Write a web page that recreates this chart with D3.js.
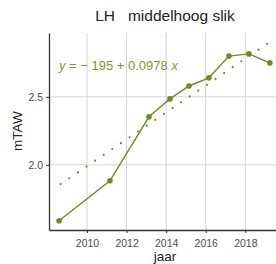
<!DOCTYPE html>
<html>
<head>
<meta charset="utf-8">
<script src="https://cdn.jsdelivr.net/npm/d3@7"></script>
<style>
  body { margin: 0; background: #fff; }
  text { font-family: "Liberation Sans", Arial, sans-serif; }
</style>
</head>
<body>
<svg width="276" height="264"></svg>
<script>
const years = [2008.59, 2011.16, 2013.13, 2014.19, 2015.15, 2016.16, 2017.17, 2018.18, 2019.24];
const levels = [1.588, 1.882, 2.353, 2.485, 2.58, 2.64, 2.80, 2.816, 2.75];
// fitted trend (y = -195 + 0.0978 x), end points
const fitYears = [2008.67, 2019.19];
const fitLevels = [1.858, 2.899];
const xTicks = [2010, 2012, 2014, 2016, 2018];
const yTicks = [2.0, 2.5];

const svgWidth = 276;
const svgHeight = 264;
const svg = d3.select("svg");

const margin = { left: 49, right: 0, top: 33, bottom: 34 };
const chartWidth = svgWidth - margin.left - margin.right;
const chartHeight = svgHeight - margin.top - margin.bottom;
const green = "#6b8e23";

const chartGroup = svg.append("g")
  .attr("transform", `translate(${margin.left}, ${margin.top})`);

const xScaler = d3.scaleLinear().domain([2008.08, 2019.55]).range([0, chartWidth]);
const yScaler = d3.scaleLinear().domain([1.52, 2.97]).range([chartHeight, 0]);

// grid
chartGroup.selectAll(".vgrid").data(xTicks).join("line")
  .attr("x1", d => xScaler(d)).attr("x2", d => xScaler(d))
  .attr("y1", 0).attr("y2", chartHeight)
  .attr("stroke", "#d4d4d4").attr("stroke-width", 1);
chartGroup.selectAll(".hgrid").data(yTicks).join("line")
  .attr("x1", 0).attr("x2", chartWidth)
  .attr("y1", d => yScaler(d)).attr("y2", d => yScaler(d))
  .attr("stroke", "#d4d4d4").attr("stroke-width", 1);

// axes
const xAxisGroup = chartGroup.append("g")
  .attr("transform", `translate(0, ${chartHeight})`)
  .call(d3.axisBottom(xScaler).tickValues(xTicks).tickFormat(d3.format("d")).tickSize(3).tickSizeOuter(0));
const yAxisGroup = chartGroup.append("g")
  .call(d3.axisLeft(yScaler).tickValues(yTicks).tickFormat(d3.format(".1f")).tickSize(3).tickSizeOuter(0));
[xAxisGroup, yAxisGroup].forEach(g => {
  g.select(".domain").attr("stroke", "#333").attr("stroke-width", 1.3);
  g.selectAll(".tick line").attr("stroke", "#333");
  g.selectAll(".tick text").attr("fill", "#4d4d4d").style("font-size", "10.5px")
    .style("font-family", "Liberation Sans, Arial, sans-serif");
});
xAxisGroup.selectAll(".tick text").attr("dy", "1.05em");

// regression (dotted)
chartGroup.append("line")
  .attr("x1", xScaler(fitYears[0])).attr("y1", yScaler(fitLevels[0]))
  .attr("x2", xScaler(fitYears[1])).attr("y2", yScaler(fitLevels[1]))
  .attr("stroke", green).attr("stroke-width", 2.2)
  .attr("stroke-linecap", "round").attr("stroke-dasharray", "0 10.4");

// data line + points
const pts = years.map((x, i) => ({ x, y: levels[i] }));
chartGroup.append("path").datum(pts)
  .attr("fill", "none").attr("stroke", green).attr("stroke-width", 1.4)
  .attr("d", d3.line().x(d => xScaler(d.x)).y(d => yScaler(d.y)));
chartGroup.selectAll("circle").data(pts).join("circle")
  .attr("cx", d => xScaler(d.x)).attr("cy", d => yScaler(d.y))
  .attr("r", 2.8).attr("fill", green);

// equation
const eq = svg.append("text").attr("x", 59).attr("y", 70)
  .attr("fill", "#7a9a35").style("font-size", "13px");
eq.append("tspan").attr("font-style", "italic").text("y");
eq.append("tspan").text(" = − 195 + 0.0978 ");
eq.append("tspan").attr("font-style", "italic").text("x");

// labels
svg.append("text").attr("x", 165).attr("y", 21).attr("text-anchor", "middle")
  .style("font-size", "15.5px").attr("fill", "#222")
  .attr("xml:space", "preserve").text("LH   middelhoog slik");
svg.append("text").attr("x", 165).attr("y", 261).attr("text-anchor", "middle")
  .style("font-size", "13.5px").attr("fill", "#222").text("jaar");
svg.append("text").attr("transform", "translate(22, 131) rotate(-90)")
  .attr("text-anchor", "middle").style("font-size", "13.5px").attr("fill", "#222").text("mTAW");
</script>
</body>
</html>
